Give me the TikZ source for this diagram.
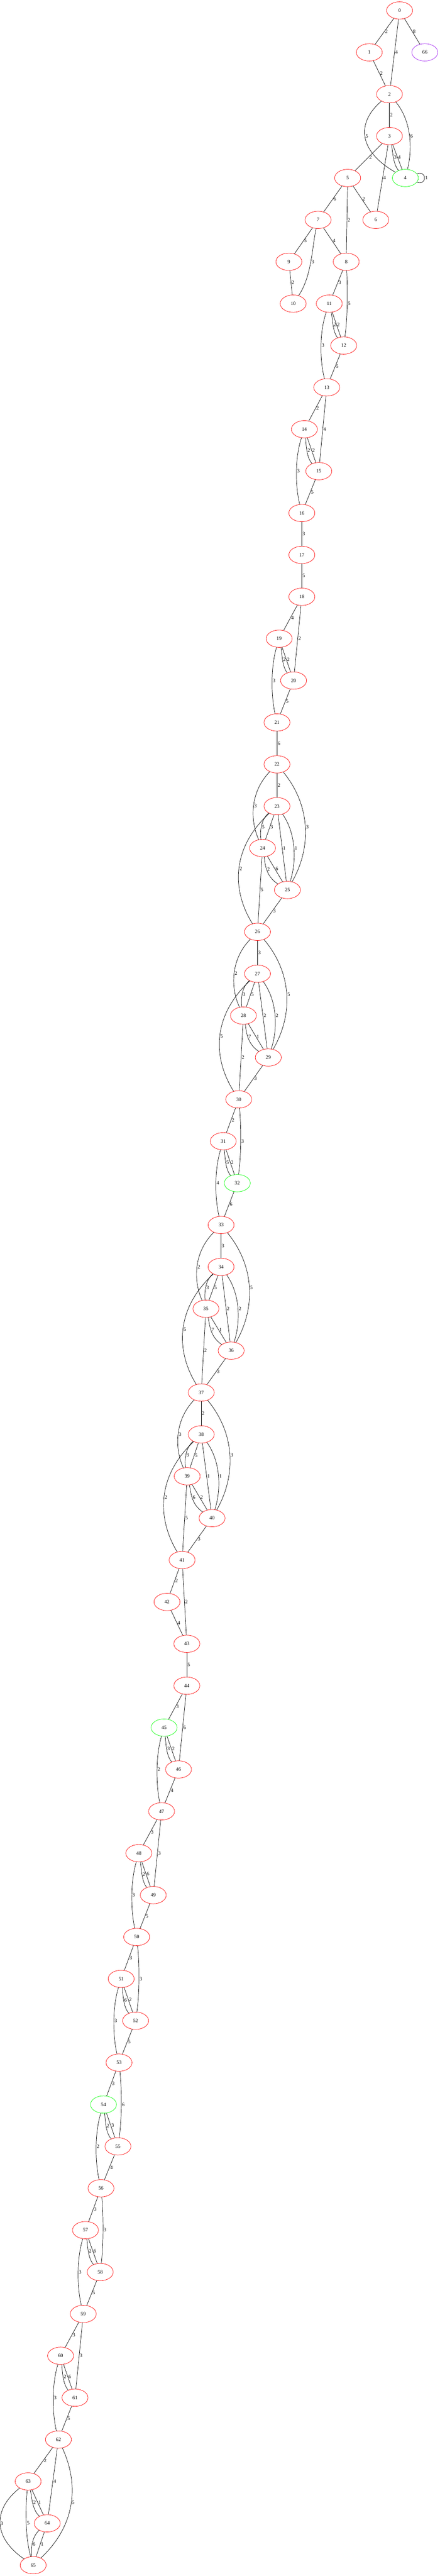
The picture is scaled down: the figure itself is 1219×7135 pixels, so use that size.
\documentclass[tikz,border=0pt]{standalone}
\usepackage{fontspec}
\setmainfont{Liberation Serif}
\usetikzlibrary{shapes.geometric}
\definecolor{gvpurple}{RGB}{160,32,240}
\begin{document}
\begin{tikzpicture}[x=1pt, y=-1pt, line width=1pt,
    vert/.style={draw, ellipse, minimum width=72pt, minimum height=48pt, inner sep=0pt, font=\fontsize{14}{16}\selectfont},
    wt/.style={anchor=west, inner sep=1.5pt, font=\fontsize{14}{16}\selectfont}]
    \useasboundingbox (0,0) rectangle (1219,7135);
    \foreach \n/\x/\r/\c in {0/1108/0/red, 1/1024/1/red, 66/1178/1/gvpurple, 2/1080/2/red, 3/1080/3/red,
        4/1124/4/green, 5/964/4/red, 6/1042/5/red, 7/882/5/red, 8/960/6/red, 9/801/6/red,
        10/813/7/red, 11/913/7/red, 12/953/8/red, 13/906/9/red, 14/844/10/red, 15/884/11/red,
        16/837/12/red, 17/837/13/red, 18/837/14/red, 19/774/15/red, 20/814/16/red, 21/768/17/red,
        22/768/18/red, 23/768/19/red, 24/728/20/red, 25/797/21/red, 26/714/22/red, 27/714/23/red,
        28/675/24/red, 29/744/25/red, 30/662/26/red, 31/619/27/red, 32/658/28/green, 33/613/29/red,
        34/613/30/red, 35/571/31/red, 36/641/32/red, 37/558/33/red, 38/558/34/red, 39/519/35/red,
        40/588/36/red, 41/505/37/red, 42/463/38/red, 43/518/39/red, 44/518/40/red, 45/455/41/green,
        46/495/42/red, 47/448/43/red, 48/385/44/red, 49/425/45/red, 50/379/46/red, 51/336/47/red,
        52/376/48/red, 53/330/49/red, 54/287/50/green, 55/327/51/red, 56/280/52/red, 57/237/53/red,
        58/278/54/red, 59/231/55/red, 60/168/56/red, 61/208/57/red, 62/162/58/red, 63/78/59/red,
        64/131/60/red, 65/92/61/red} {
        \node[vert, draw=\c] (n\n) at (\x, {29+116*\r}) {\n};
    }
    \foreach \a/\b/\w in {0/1/2, 0/2/4, 0/66/8, 1/2/2, 2/3/2, 3/4/4, 3/5/2, 3/6/4, 5/7/6, 5/6/2,
        5/8/2, 7/9/5, 7/8/4, 9/10/2, 8/11/3, 11/12/2, 12/13/5, 13/14/2, 13/15/4, 14/15/2, 15/16/5,
        16/17/3, 17/18/5, 18/19/4, 18/20/2, 19/20/2, 20/21/5, 21/22/6, 22/23/2, 23/24/3, 23/25/1,
        24/25/6, 24/26/5, 25/26/3, 26/27/3, 27/28/5, 27/29/2, 28/29/1, 28/30/2, 29/30/3, 30/31/2,
        31/32/2, 32/33/6, 33/34/3, 34/35/5, 34/36/2, 35/36/1, 35/37/2, 36/37/3, 37/38/2, 38/39/5,
        38/40/1, 39/40/2, 39/41/5, 40/41/3, 41/42/2, 41/43/2, 42/43/4, 43/44/5, 44/45/3, 44/46/6,
        45/46/2, 46/47/4, 47/48/3, 47/49/3, 48/49/6, 49/50/5, 50/51/3, 51/52/2, 52/53/5, 53/54/3,
        54/55/3, 55/56/4, 56/57/3, 57/58/6, 58/59/5, 59/60/3, 59/61/3, 60/61/6, 61/62/5, 62/63/2,
        62/64/4, 63/64/1, 64/65/1} {
        \draw (n\a) -- (n\b) node[wt, midway] {\w};
    }
    \draw (n4) to[out=20, in=-20, distance=30pt] node[wt, midway] {1} (n4);
    \draw (n2) .. controls (990,338) and (990,416) .. (n4) node[wt, midway] {5};
    \draw (n2) .. controls (1143,338) and (1143,416) .. (n4) node[wt, midway] {6};
    \draw (n3) .. controls (1089,416) and (1089,454) .. (n4) node[wt, midway] {3};
    \draw (n7) .. controls (865,685) and (865,764) .. (n10) node[wt, midway] {3};
    \draw (n8) .. controls (964,802) and (964,880) .. (n12) node[wt, midway] {5};
    \draw (n11) .. controls (922,880) and (922,918) .. (n12) node[wt, midway] {2};
    \draw (n11) .. controls (886,918) and (886,996) .. (n13) node[wt, midway] {3};
    \draw (n14) .. controls (849,1228) and (849,1266) .. (n15) node[wt, midway] {2};
    \draw (n14) .. controls (818,1266) and (818,1344) .. (n16) node[wt, midway] {3};
    \draw (n19) .. controls (782,1808) and (782,1846) .. (n20) node[wt, midway] {2};
    \draw (n19) .. controls (751,1846) and (751,1924) .. (n21) node[wt, midway] {3};
    \draw (n22) .. controls (693,2194) and (693,2272) .. (n24) node[wt, midway] {3};
    \draw (n22) .. controls (863,2233) and (863,2349) .. (n25) node[wt, midway] {3};
    \draw (n23) .. controls (721,2272) and (721,2310) .. (n24) node[wt, midway] {5};
    \draw (n23) .. controls (822,2310) and (822,2388) .. (n25) node[wt, midway] {1};
    \draw (n23) .. controls (642,2349) and (642,2465) .. (n26) node[wt, midway] {2};
    \draw (n24) .. controls (735,2388) and (735,2426) .. (n25) node[wt, midway] {2};
    \draw (n26) .. controls (639,2658) and (639,2736) .. (n28) node[wt, midway] {2};
    \draw (n26) .. controls (812,2697) and (812,2813) .. (n29) node[wt, midway] {5};
    \draw (n27) .. controls (668,2736) and (668,2774) .. (n28) node[wt, midway] {3};
    \draw (n27) .. controls (770,2774) and (770,2852) .. (n29) node[wt, midway] {2};
    \draw (n27) .. controls (589,2813) and (589,2929) .. (n30) node[wt, midway] {5};
    \draw (n28) .. controls (683,2852) and (683,2890) .. (n29) node[wt, midway] {7};
    \draw (n30) .. controls (669,3122) and (669,3200) .. (n32) node[wt, midway] {3};
    \draw (n31) .. controls (624,3200) and (624,3238) .. (n32) node[wt, midway] {5};
    \draw (n31) .. controls (595,3238) and (595,3316) .. (n33) node[wt, midway] {4};
    \draw (n33) .. controls (536,3470) and (536,3548) .. (n35) node[wt, midway] {2};
    \draw (n33) .. controls (708,3509) and (708,3625) .. (n36) node[wt, midway] {5};
    \draw (n34) .. controls (567,3548) and (567,3586) .. (n35) node[wt, midway] {3};
    \draw (n34) .. controls (667,3586) and (667,3664) .. (n36) node[wt, midway] {2};
    \draw (n34) .. controls (487,3625) and (487,3741) .. (n37) node[wt, midway] {5};
    \draw (n35) .. controls (581,3664) and (581,3702) .. (n36) node[wt, midway] {7};
    \draw (n37) .. controls (484,3934) and (484,4012) .. (n39) node[wt, midway] {3};
    \draw (n37) .. controls (654,3973) and (654,4089) .. (n40) node[wt, midway] {3};
    \draw (n38) .. controls (512,4012) and (512,4050) .. (n39) node[wt, midway] {3};
    \draw (n38) .. controls (613,4050) and (613,4128) .. (n40) node[wt, midway] {1};
    \draw (n38) .. controls (435,4089) and (435,4205) .. (n41) node[wt, midway] {2};
    \draw (n39) .. controls (529,4128) and (529,4166) .. (n40) node[wt, midway] {6};
    \draw (n45) .. controls (460,4824) and (460,4862) .. (n46) node[wt, midway] {3};
    \draw (n45) .. controls (432,4862) and (432,4940) .. (n47) node[wt, midway] {2};
    \draw (n48) .. controls (392,5172) and (392,5210) .. (n49) node[wt, midway] {2};
    \draw (n48) .. controls (362,5211) and (362,5288) .. (n50) node[wt, midway] {3};
    \draw (n50) .. controls (387,5442) and (387,5520) .. (n52) node[wt, midway] {3};
    \draw (n51) .. controls (341,5520) and (341,5558) .. (n52) node[wt, midway] {6};
    \draw (n51) .. controls (312,5558) and (312,5636) .. (n53) node[wt, midway] {3};
    \draw (n53) .. controls (338,5790) and (338,5868) .. (n55) node[wt, midway] {6};
    \draw (n54) .. controls (292,5868) and (292,5906) .. (n55) node[wt, midway] {2};
    \draw (n54) .. controls (263,5906) and (263,5984) .. (n56) node[wt, midway] {2};
    \draw (n56) .. controls (287,6138) and (287,6216) .. (n58) node[wt, midway] {3};
    \draw (n57) .. controls (243,6216) and (243,6254) .. (n58) node[wt, midway] {2};
    \draw (n57) .. controls (213,6254) and (213,6332) .. (n59) node[wt, midway] {3};
    \draw (n60) .. controls (173,6563) and (173,6602) .. (n61) node[wt, midway] {2};
    \draw (n60) .. controls (144,6602) and (144,6680) .. (n62) node[wt, midway] {3};
    \draw (n62) .. controls (216,6873) and (216,6989) .. (n65) node[wt, midway] {5};
    \draw (n63) .. controls (88,6912) and (88,6950) .. (n64) node[wt, midway] {2};
    \draw (n63) .. controls (-20,6950) and (-20,7028) .. (n65) node[wt, midway] {3};
    \draw (n63) .. controls (70,6950) and (70,7028) .. (n65) node[wt, midway] {5};
    \draw (n64) .. controls (86,7028) and (86,7066) .. (n65) node[wt, midway] {6};
\end{tikzpicture}
\end{document}
